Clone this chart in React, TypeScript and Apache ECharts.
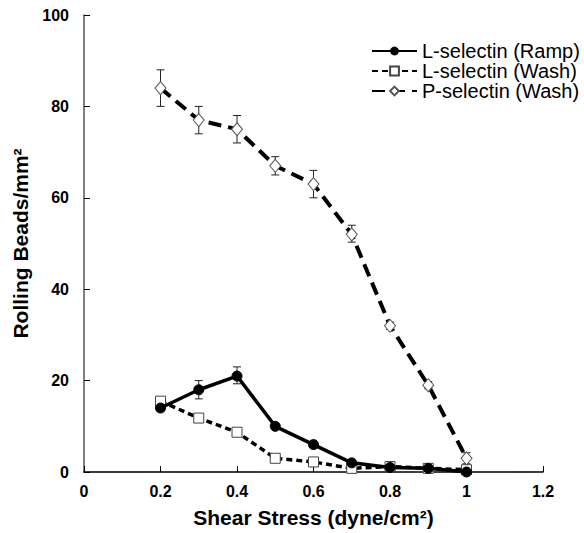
import React, { useEffect, useRef } from "react";
import * as echarts from "echarts";

const shear = [0.2, 0.3, 0.4, 0.5, 0.6, 0.7, 0.8, 0.9, 1.0];
const xTicks = [0, 0.2, 0.4, 0.6, 0.8, 1, 1.2];
const yTicks = [0, 20, 40, 60, 80, 100];

const lRamp = [14, 18, 21, 10, 6, 2, 1, 0.8, 0];
const lRampLow = [13.3, 16, 19.3, 9.4, 5.4, 1.4, 0.4, 0.3, 0];
const lRampHigh = [14.7, 20, 23, 10.6, 6.6, 2.6, 1.4, 1.3, 0.5];

const lWash = [15.5, 11.8, 8.7, 3, 2.2, 0.8, 1.2, 0.8, 0.5];
const lWashLow = [14.7, 11.2, 8.1, 2.5, 1.5, 0.3, 0.7, 0.3, 0.1];
const lWashHigh = [16.3, 12.4, 9.3, 3.5, 2.9, 1.3, 1.7, 1.3, 0.9];

const pWash = [84, 77, 75, 67, 63, 52, 32, 19, 3];
const pWashLow = [80, 74, 72, 65, 60, 50.3, 31.2, 18.2, 1.8];
const pWashHigh = [88, 80, 78, 69, 66, 54, 32.8, 19.8, 4.2];

const FONT = "Arial, 'Liberation Sans', Helvetica, sans-serif";

function errSeries(name: string, lo: number[], hi: number[]) {
  return {
    type: "custom",
    name: name + "-err",
    z: 1,
    silent: true,
    encode: { x: 0, y: [1, 2] },
    data: shear.map((x, i) => [x, lo[i], hi[i]]),
    renderItem: (params: any, api: any) => {
      const x = api.value(0);
      const top = api.coord([x, api.value(2)]);
      const bot = api.coord([x, api.value(1)]);
      const w = 4;
      const style = { stroke: "#222", lineWidth: 1 };
      return {
        type: "group",
        children: [
          { type: "line", shape: { x1: top[0], y1: top[1], x2: bot[0], y2: bot[1] }, style },
          { type: "line", shape: { x1: top[0] - w, y1: top[1], x2: top[0] + w, y2: top[1] }, style },
          { type: "line", shape: { x1: bot[0] - w, y1: bot[1], x2: bot[0] + w, y2: bot[1] }, style },
        ],
      };
    },
  };
}

export default function App() {
  const ref = useRef<HTMLDivElement>(null);
  useEffect(() => {
    if (!ref.current) return;
    const chart = echarts.init(ref.current, undefined, { renderer: "svg" });
    chart.setOption({
      animation: false,
      backgroundColor: "#fff",
      textStyle: { fontFamily: FONT },
      grid: { left: 84, right: 41, top: 15, bottom: 60 },
      legend: {
        left: 366,
        top: 36,
        orient: "vertical",
        itemGap: 0,
        itemWidth: 45,
        itemHeight: 11,
        data: ["L-selectin (Ramp)", "L-selectin (Wash)", "P-selectin (Wash)"],
        textStyle: { fontFamily: FONT, fontSize: 20, lineHeight: 17.5, color: "#000" },
      },
      xAxis: {
        type: "value",
        min: 0,
        max: 1.2,
        interval: 0.2,
        name: "Shear Stress (dyne/cm²)",
        nameLocation: "middle",
        nameGap: 35,
        nameTextStyle: { fontFamily: FONT, fontSize: 21, fontWeight: "bold", color: "#000" },
        axisLine: { lineStyle: { color: "#000", width: 1.5 } },
        axisTick: { inside: true, length: 6, lineStyle: { color: "#000" } },
        axisLabel: {
          margin: 11,
          fontFamily: FONT,
          fontSize: 16,
          fontWeight: "bold",
          color: "#000",
          formatter: (v: number) => {
            const t = xTicks.find((k) => Math.abs(k - v) < 1e-6);
            return t === undefined ? "" : String(t);
          },
        },
        splitLine: { show: false },
      },
      yAxis: {
        type: "value",
        min: 0,
        max: 100,
        interval: 20,
        name: "Rolling Beads/mm²",
        nameLocation: "middle",
        nameGap: 41,
        nameTextStyle: { fontFamily: FONT, fontSize: 21, fontWeight: "bold", color: "#000" },
        axisLine: { show: true, lineStyle: { color: "#555", width: 1.5 } },
        axisTick: { show: true, inside: true, length: 6, lineStyle: { color: "#000" } },
        axisLabel: {
          margin: 15,
          fontFamily: FONT,
          fontSize: 16,
          fontWeight: "bold",
          color: "#000",
          formatter: (v: number) => (yTicks.includes(v) ? String(v) : ""),
        },
        splitLine: { show: false },
      },
      series: [
        errSeries("pw", pWashLow, pWashHigh),
        errSeries("lw", lWashLow, lWashHigh),
        errSeries("lr", lRampLow, lRampHigh),
        {
          type: "line",
          name: "P-selectin (Wash)",
          z: 2,
          data: shear.map((x, i) => [x, pWash[i]]),
          symbol: "diamond",
          symbolSize: [11, 13],
          itemStyle: { color: "#fff", borderColor: "#555", borderWidth: 1 },
          lineStyle: { color: "#000", width: 4, type: [13, 7] },
        },
        {
          type: "line",
          name: "L-selectin (Wash)",
          z: 3,
          data: shear.map((x, i) => [x, lWash[i]]),
          symbol: "rect",
          symbolSize: 10,
          itemStyle: { color: "#fff", borderColor: "#444", borderWidth: 1 },
          lineStyle: { color: "#000", width: 3.5, type: [6, 4] },
        },
        {
          type: "line",
          name: "L-selectin (Ramp)",
          z: 4,
          data: shear.map((x, i) => [x, lRamp[i]]),
          symbol: "circle",
          symbolSize: 10,
          itemStyle: { color: "#000", borderColor: "#000" },
          lineStyle: { color: "#000", width: 3.5 },
        },
      ],
    });
    return () => chart.dispose();
  }, []);
  return (
    <div
      ref={ref}
      style={{ position: "fixed", left: 0, top: 0, width: 584, height: 533, background: "#fff" }}
    />
  );
}
